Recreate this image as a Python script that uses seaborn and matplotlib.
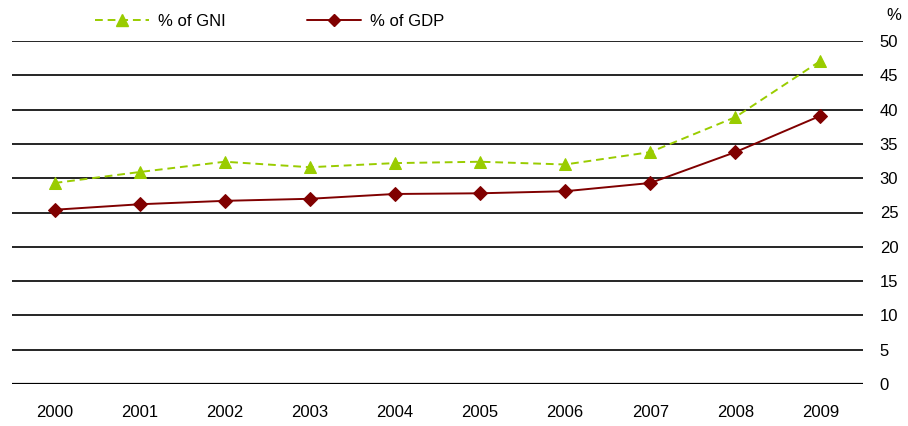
import numpy as np
import pandas as pd
import seaborn as sns
import matplotlib.pyplot as plt
from matplotlib.lines import Line2D

years = [2000, 2001, 2002, 2003, 2004, 2005, 2006, 2007, 2008, 2009]
pct_gni = [29.3, 30.9, 32.4, 31.6, 32.2, 32.4, 32.0, 33.8, 38.9, 47.1]
pct_gdp = [25.4, 26.2, 26.7, 27.0, 27.7, 27.8, 28.1, 29.3, 33.8, 39.1]
yticks = [0, 5, 10, 15, 20, 25, 30, 35, 40, 45, 50]

sns.set_theme(style='white')
plt.rcParams['font.family'] = ['Liberation Sans', 'DejaVu Sans']
plt.rcParams['text.color'] = 'black'
plt.rcParams['xtick.color'] = 'black'
plt.rcParams['ytick.color'] = 'black'

df = pd.DataFrame({'pos': np.arange(len(years)), 'gni': pct_gni, 'gdp': pct_gdp})

fig = plt.figure(figsize=(9.08, 4.26), dpi=100)
ax = fig.add_axes([12 / 908, 1 - 384 / 426, 851 / 908, 343 / 426])

# horizontal gridlines, bottom one a bit heavier
for y in yticks:
    ax.axhline(y, color='black', lw=1.6 if y == 0 else 1.2, zorder=1)

sns.lineplot(x='pos', y='gni', data=df, ax=ax, color='#99cc00', lw=1.4,
             linestyle=(0, (4, 2.5)), marker='^', markersize=9,
             markeredgecolor='#99cc00', zorder=3)
sns.lineplot(x='pos', y='gdp', data=df, ax=ax, color='#800000', lw=1.4,
             marker='D', markersize=7, markeredgecolor='#800000', zorder=4)

ax.set_xlim(-0.5, len(years) - 0.5)
ax.set_ylim(0, 50)
ax.set_xticks(df['pos'])
ax.set_xticklabels([str(y) for y in years], fontsize=12)
ax.set_yticks(yticks)
ax.set_yticklabels([str(y) for y in yticks], fontsize=12)
ax.yaxis.tick_right()
ax.tick_params(axis='y', length=0, pad=12)
ax.tick_params(axis='x', length=0, pad=15)
for lab in ax.get_yticklabels():
    lab.set_horizontalalignment('left')
ax.set_xlabel('')
ax.set_ylabel('')
for s in ax.spines.values():
    s.set_visible(False)

fig.text(886 / 908, 1 - 16 / 426, '%', fontsize=12, ha='left', va='center')

handles = [
    Line2D([], [], color='#99cc00', lw=1.4, linestyle=(0, (4, 2.5)), marker='^',
           markersize=8, markeredgecolor='#99cc00'),
    Line2D([], [], color='#800000', lw=1.4, marker='D', markersize=6,
           markeredgecolor='#800000'),
]
fig.legend(handles, ['% of GNI', '% of GDP'], loc='center left',
           bbox_to_anchor=(87 / 908, 1 - 21 / 426), ncol=2, frameon=False,
           borderpad=0, fontsize=12, handlelength=3.2, columnspacing=4.9,
           handletextpad=0.55)

fig.savefig('out.png', dpi=100)
